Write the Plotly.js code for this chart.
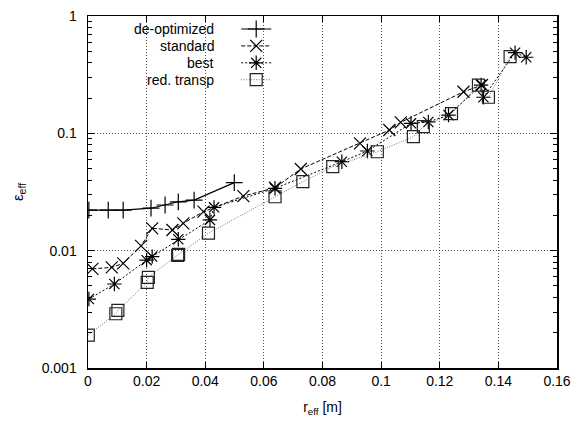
<!DOCTYPE html>
<html>
<head>
<meta charset="utf-8">
<script src="https://cdn.plot.ly/plotly-3.0.1.min.js"></script>
<style>html,body{margin:0;padding:0;background:#fff;}#chart{width:574px;height:421px;}</style>
</head>
<body>
<div id="chart"></div>
<script>
// de-optimized
const deoptR   = [0.0003, 0.0069, 0.012, 0.0215, 0.0263, 0.0308, 0.0362, 0.0499];
const deoptEps = [0.0222, 0.0222, 0.0222, 0.0230, 0.0245, 0.0261, 0.0270, 0.0380];
// standard
const stdR   = [0.0015, 0.0081, 0.012, 0.0181, 0.0219, 0.0288, 0.0325, 0.0394, 0.053, 0.0638, 0.0726, 0.0928, 0.1028, 0.1067, 0.1281, 0.1344];
const stdEps = [0.0070, 0.0072, 0.0078, 0.0110, 0.0155, 0.0150, 0.0171, 0.0215, 0.0292, 0.0344, 0.0497, 0.0822, 0.1067, 0.124, 0.226, 0.258];
// best
const bestR   = [0.0003, 0.009, 0.020, 0.0219, 0.0308, 0.0416, 0.043, 0.0638, 0.0866, 0.0953, 0.1102, 0.1161, 0.123, 0.1341, 0.1349, 0.1457, 0.1495];
const bestEps = [0.00387, 0.0052, 0.0083, 0.0089, 0.0125, 0.0183, 0.0234, 0.0340, 0.0573, 0.0707, 0.1217, 0.125, 0.143, 0.258, 0.203, 0.487, 0.445];
// red. transp
const redR   = [0.0001, 0.0095, 0.0102, 0.0202, 0.0206, 0.0306, 0.0309, 0.0411, 0.0638, 0.0733, 0.0835, 0.0987, 0.111, 0.1144, 0.124, 0.1332, 0.1366, 0.144];
const redEps = [0.00191, 0.0029, 0.0031, 0.00537, 0.00593, 0.0091, 0.0093, 0.0141, 0.0288, 0.0387, 0.0520, 0.0697, 0.0936, 0.1139, 0.147, 0.258, 0.203, 0.450];

const seriesNames = ['de-optimized', 'standard', 'best', 'red. transp'];

const styles = [
  {line: {color: '#000', width: 1.2, dash: 'solid'},
   marker: {symbol: 'cross-thin-open', size: 12, color: '#000', line: {color: '#000', width: 1.2}}},
  {line: {color: '#000', width: 1, dash: '4px,2px'},
   marker: {symbol: 'x-thin-open', size: 12, color: '#000', line: {color: '#000', width: 1.2}}},
  {line: {color: '#000', width: 1, dash: '2px,2px'},
   marker: {symbol: 'asterisk-open', size: 12, color: '#000', line: {color: '#000', width: 1.2}}},
  {line: {color: '#777', width: 1, dash: '1px,1.5px'},
   marker: {symbol: 'square-open', size: 12, color: '#222', line: {color: '#222', width: 1.2}}}
];
const xs = [deoptR, stdR, bestR, redR];
const ys = [deoptEps, stdEps, bestEps, redEps];
const legendIds = ['legend', 'legend2', 'legend3', 'legend4'];
const rowY = i => 0.963 - i * 0.048;

const traces = [];
for (let i = 0; i < 4; i++) {
  traces.push(Object.assign({x: xs[i], y: ys[i], name: seriesNames[i], mode: 'lines+markers',
                             showlegend: false}, styles[i]));
}
// legend samples: one small legend per row (labels are right-aligned annotations, as in the original)
for (let i = 0; i < 4; i++) {
  traces.push(Object.assign({x: [null], y: [null], name: ' ', mode: 'lines+markers',
                             showlegend: true, legend: legendIds[i], hoverinfo: 'skip'}, styles[i]));
}

const annotations = seriesNames.map((n, i) => ({
  text: n, xref: 'paper', yref: 'paper', x: 0.273, y: rowY(i),
  xanchor: 'right', yanchor: 'middle', showarrow: false, font: {size: 14, color: '#000'}
}));

const layout = {
  width: 574, height: 421,
  margin: {l: 88, r: 17, t: 16, b: 53},
  paper_bgcolor: '#fff', plot_bgcolor: '#fff',
  font: {family: 'Liberation Sans, Arial, sans-serif', size: 14, color: '#000'},
  showlegend: true,
  annotations: annotations,
  xaxis: {
    range: [0, 0.16], dtick: 0.02, tick0: 0,
    showline: true, linecolor: '#000', linewidth: 1.5, mirror: 'allticks',
    ticks: 'inside', ticklen: 6, tickcolor: '#000',
    showgrid: true, gridcolor: '#555', griddash: '1px,2px', gridwidth: 1,
    zeroline: false,
    title: {text: 'r<sub>eff</sub> [m]', font: {size: 14}, standoff: 14}
  },
  yaxis: {
    type: 'log', range: [-3, 0],
    tickmode: 'linear', tick0: 0, dtick: 1, exponentformat: 'none',
    showline: true, linecolor: '#000', linewidth: 1.5, mirror: 'allticks',
    ticks: 'inside', ticklen: 7, tickcolor: '#000', ticklabelstandoff: 7,
    minor: {ticks: 'inside', ticklen: 4, tickcolor: '#000', dtick: 'D1', showgrid: false},
    showgrid: true, gridcolor: '#555', griddash: '1px,2px', gridwidth: 1,
    zeroline: false,
    title: {text: 'ε<sub>eff</sub>', font: {size: 15}, standoff: 14}
  }
};
legendIds.forEach((id, i) => {
  layout[id] = {x: 0.316, y: rowY(i), xanchor: 'left', yanchor: 'middle',
                bgcolor: 'rgba(0,0,0,0)', font: {size: 11}, itemwidth: 30};
});

Plotly.newPlot('chart', traces, layout, {displayModeBar: false, staticPlot: true});
</script>
</body>
</html>
